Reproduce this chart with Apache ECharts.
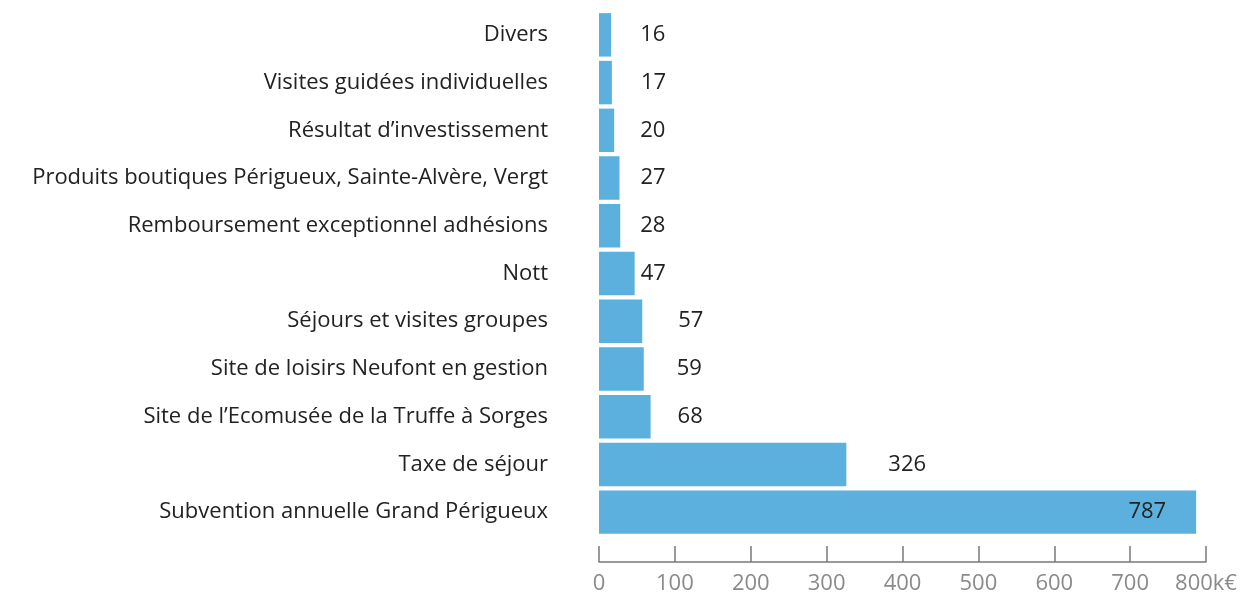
<!DOCTYPE html>
<html>
<head>
	<meta charset="utf-8">
	<script src="https://cdn.jsdelivr.net/npm/echarts@6/dist/echarts.min.js"></script>
	<title>Recettes</title>
	<style>
		html, body { margin: 0; padding: 0; background: #fff; }
		#main { width: 1248px; height: 593px; }
	</style>
</head>
<body>
	<div id="main"></div>
	<script type="text/javascript">
		// categories from bottom to top (ECharts category axis goes upward)
		var categories = [
			'Subvention annuelle Grand Périgueux',
			'Taxe de séjour',
			'Site de l\u2019Ecomusée de la Truffe à Sorges',
			'Site de loisirs Neufont en gestion',
			'Séjours et visites groupes',
			'Nott',
			'Remboursement exceptionnel adhésions',
			'Produits boutiques Périgueux, Sainte-Alvère, Vergt',
			'Résultat d\u2019investissement',
			'Visites guidées individuelles',
			'Divers'
		];
		var values = [787, 326, 68, 59, 57, 47, 28, 27, 20, 17, 16];
		var tickLabels = ['0', '100', '200', '300', '400', '500', '600', '700', '800k€'];

		// gap between bar end and value label, in px (as in the original)
		var labelGap = [-72, 42, 27, 33, 36, 6, 20, 21, 26, 29, 29];

		var myChart = echarts.init(document.getElementById('main'));
		var font = 'Open Sans';

		var data = values.map(function (v, i) {
			var item = { value: v, label: {} };
			if (labelGap[i] < 0) {
				item.label.position = 'insideRight';
				item.label.distance = -labelGap[i] - 42;
			} else {
				item.label.position = 'right';
				item.label.distance = labelGap[i];
			}
			return item;
		});

		var option = {
			animation: false,
			grid: { left: 599, right: 42, top: 11, bottom: 57, outerBoundsMode: 'none', containLabel: false },
			xAxis: {
				type: 'value',
				min: 0,
				max: 800,
				interval: 100,
				offset: 26,
				axisLine: { show: true, lineStyle: { color: '#7a7a7a', width: 1.5 } },
				axisTick: { show: true, inside: true, length: 16, lineStyle: { color: '#7a7a7a', width: 1.5 } },
				splitLine: { show: false },
				axisLabel: {
					margin: 11,
					color: '#8a8a8a',
					fontFamily: font,
					fontSize: 22,
					formatter: function (v) { return tickLabels[Math.round(v / 100)]; }
				}
			},
			yAxis: {
				type: 'category',
				data: categories,
				axisLine: { show: false },
				axisTick: { show: false },
				axisLabel: {
					margin: 51,
					color: '#222',
					fontFamily: font,
					fontSize: 22
				}
			},
			series: [{
				type: 'bar',
				data: data,
				barCategoryGap: '9%',
				itemStyle: { color: '#5cb0dd' },
				label: {
					show: true,
					color: '#222',
					fontFamily: font,
					fontSize: 22
				}
			}]
		};
		myChart.setOption(option);
	</script>
</body>
</html>
